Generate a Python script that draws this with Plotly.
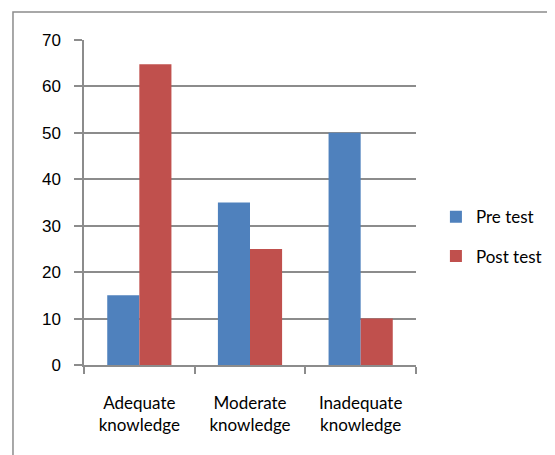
import plotly.graph_objects as go

categories = ["Adequate<br>knowledge", "Moderate<br>knowledge", "Inadequate<br>knowledge"]
pre_test = [15, 35, 50]
post_test = [64.8, 25, 10]
y_ticks = [0, 10, 20, 30, 40, 50, 60, 70]

grey = "#8c8c8c"

fig = go.Figure()
fig.add_trace(go.Bar(x=categories, y=pre_test, name="Pre test",
                     marker=dict(color="#4F81BD", line=dict(width=0)), legendgroup="a"))
fig.add_trace(go.Bar(x=categories, y=post_test, name="Post test",
                     marker=dict(color="#C0504D", line=dict(width=0)), legendgroup="b"))

fig.update_layout(
    width=555, height=455,
    margin=dict(l=76, r=147, t=32, b=98),
    paper_bgcolor="white", plot_bgcolor="white",
    barmode="group", bargap=0.42, bargroupgap=0,
    showlegend=True,
    legend=dict(x=1.06, y=0.51, xanchor="left", yanchor="top",
                font=dict(family="Lato", size=17, color="#000000"),
                tracegroupgap=14, traceorder="grouped"),
    xaxis=dict(showline=True, linecolor=grey, linewidth=1.5,
               ticks="outside", tickson="boundaries", ticklen=7,
               tickcolor=grey, tickwidth=1.5, showgrid=False,
               tickfont=dict(family="Lato", size=17, color="#000000"),
               ticklabelstandoff=22),
    yaxis=dict(range=[0, 70], tickvals=y_ticks, showline=True, linecolor=grey,
               linewidth=1.5, ticks="outside", ticklen=8, tickcolor=grey,
               tickwidth=1.5, showgrid=True, gridcolor=grey, gridwidth=1.5,
               zeroline=False,
               tickfont=dict(family="Liberation Sans", size=17, color="#000000"),
               ticklabelstandoff=10),
    shapes=[dict(type="rect", xref="paper", yref="paper",
                 x0=-0.2139, x1=1.45, y0=-0.30, y1=1.086,
                 line=dict(color=grey, width=1.5), fillcolor="rgba(0,0,0,0)")],
)

fig.write_html("out.html")
